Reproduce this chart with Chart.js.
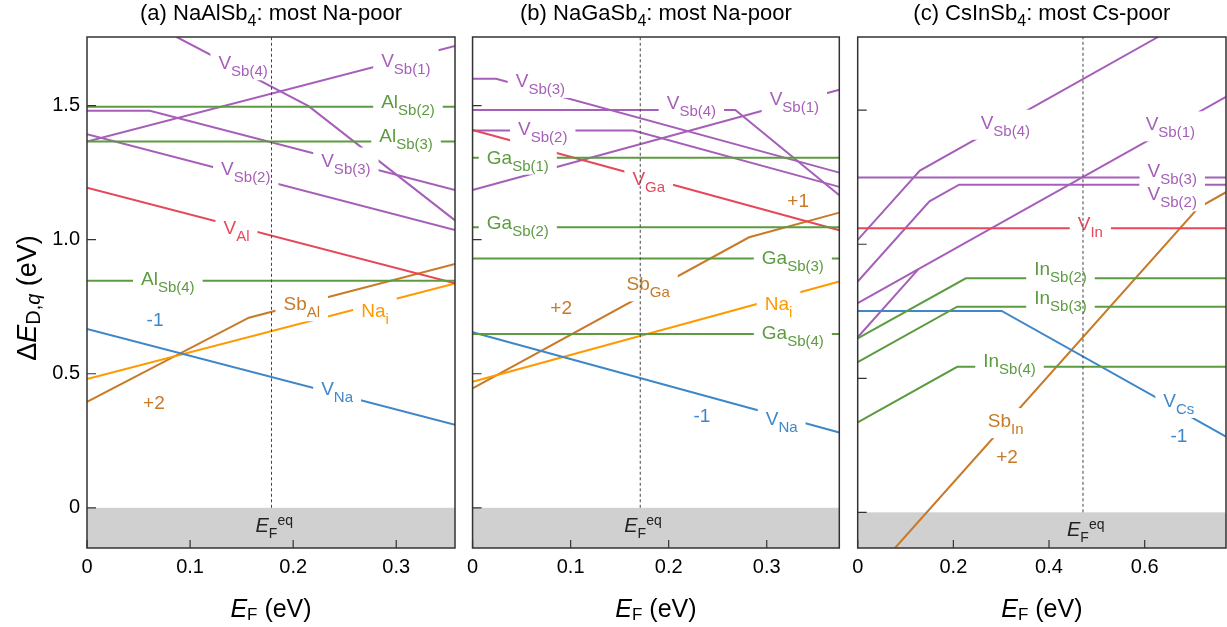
<!DOCTYPE html>
<html>
<head>
<meta charset="utf-8">
<style>
  body { margin: 0; background: #fff; }
  #wrap { position: relative; width: 1227px; height: 627px; overflow: hidden; }
  #wrap canvas { position: absolute; top: 0; }
</style>
</head>
<body>
<div id="wrap"></div>

<script src="https://cdn.jsdelivr.net/npm/chart.js@4.4.0/dist/chart.umd.min.js"></script>
<script>
  // tick values
  const xTicksAB = [0, 0.1, 0.2, 0.3]
  const xTicksC = [0, 0.2, 0.4, 0.6]
  const yTicks = [0, 0.5, 1.0, 1.5]

  // E_F^eq positions (eV)
  const eqA = 0.179
  const eqB = 0.171
  const eqC = 0.471

  // (a) NaAlSb4 : [E_F, dE] break points
  const aVNa = [[0, 0.667], [0.357, 0.310]]
  const aNai = [[0, 0.480], [0.357, 0.837]]
  const aSbAl = [[0, 0.395], [0.157, 0.709], [0.357, 0.909]]
  const aVAl = [[0, 1.194], [0.357, 0.837]]
  const aAlSb4 = [[0, 0.847], [0.357, 0.847]]
  const aAlSb3 = [[0, 1.366], [0.357, 1.366]]
  const aAlSb2 = [[0, 1.496], [0.357, 1.496]]
  const aVSb1 = [[0, 1.366], [0.357, 1.723]]
  const aVSb2 = [[0, 1.393], [0.357, 1.036]]
  const aVSb3 = [[0, 1.481], [0.061, 1.481], [0.357, 1.185]]
  const aVSb4 = [[0.087, 1.756], [0.215, 1.498], [0.357, 1.072]]

  // (b) NaGaSb4
  const bVNa = [[0, 0.655], [0.374, 0.281]]
  const bGaSb4 = [[0, 0.648], [0.374, 0.648]]
  const bNai = [[0, 0.470], [0.374, 0.844]]
  const bSbGa = [[0, 0.445], [0.282, 1.009], [0.374, 1.101]]
  const bGaSb3 = [[0, 0.930], [0.374, 0.930]]
  const bGaSb2 = [[0, 1.046], [0.374, 1.046]]
  const bGaSb1 = [[0, 1.306], [0.374, 1.306]]
  const bVGa = [[0, 1.409], [0.374, 1.035]]
  const bVSb2 = [[0, 1.407], [0.164, 1.407], [0.374, 1.197]]
  const bVSb4 = [[0, 1.484], [0.268, 1.484], [0.374, 1.166]]
  const bVSb3 = [[0, 1.600], [0.024, 1.600], [0.374, 1.250]]
  const bVSb1 = [[0, 1.185], [0.374, 1.559]]

  // (c) CsInSb4
  const cVIn = [[0, 1.060], [0.77, 1.060]]
  const cVSb3 = [[0, 1.249], [0.77, 1.249]]
  const cVSb2 = [[0, 0.861], [0.150, 1.160], [0.212, 1.222], [0.77, 1.222]]
  const cVSb4 = [[0, 1.016], [0.130, 1.275], [0.628, 1.773]]
  const cVSb1 = [[0, 0.780], [0.77, 1.550]]
  const cVSb1b = [[0, 0.653], [0.127, 0.907]]
  const cInSb2 = [[0, 0.649], [0.226, 0.873], [0.77, 0.873]]
  const cInSb3 = [[0, 0.560], [0.208, 0.767], [0.77, 0.767]]
  const cInSb4 = [[0, 0.336], [0.208, 0.543], [0.77, 0.543]]
  const cVCs = [[0, 0.751], [0.301, 0.751], [0.77, 0.282]]
  const cSbIn = [[0.078, -0.133], [0.712, 1.136], [0.77, 1.194]]

  const FONT = '"Liberation Sans", Arial, Helvetica, sans-serif'
  const PURPLE = '#a65fb9'
  const GREEN = '#5c9b40'
  const RED = '#e6485a'
  const ORANGE = '#ff9900'
  const BROWN = '#c77a28'
  const BLUE = '#3e87c8'

  const panels = [
    {
      left: 0, width: 460, axisW: 87, padR: 5,
      xMax: 0.357, yMin: -0.15, yMax: 1.756, xTicks: xTicksAB, showY: true, eq: eqA,
      title: ['(a) NaAlSb', '4', ': most Na-poor'],
      series: [
        [aAlSb4, GREEN], [aAlSb3, GREEN], [aAlSb2, GREEN],
        [aVNa, BLUE], [aVAl, RED], [aVSb1, PURPLE], [aVSb2, PURPLE], [aVSb3, PURPLE], [aVSb4, PURPLE],
        [aNai, ORANGE], [aSbAl, BROWN]
      ],
      labels: [
        [0.1275, 1.662, 'V', 'Sb(4)', PURPLE, true],
        [0.2854, 1.672, 'V', 'Sb(1)', PURPLE, true],
        [0.2854, 1.517, 'Al', 'Sb(2)', GREEN, true],
        [0.2835, 1.389, 'Al', 'Sb(3)', GREEN, true],
        [0.2272, 1.299, 'V', 'Sb(3)', PURPLE, true],
        [0.1301, 1.268, 'V', 'Sb(2)', PURPLE, true],
        [0.1324, 1.049, 'V', 'Al', RED, true],
        [0.0524, 0.856, 'Al', 'Sb(4)', GREEN, true],
        [0.1906, 0.763, 'Sb', 'Al', BROWN, true],
        [0.266, 0.738, 'Na', 'i', ORANGE, true],
        [0.2272, 0.4455, 'V', 'Na', BLUE, true],
        [0.0578, 0.704, '-1', '', BLUE, false],
        [0.0544, 0.396, '+2', '', BROWN, false]
      ]
    },
    {
      left: 460, width: 385, axisW: 11.7, padR: 5.7,
      xMax: 0.374, yMin: -0.15, yMax: 1.756, xTicks: xTicksAB, showY: false, eq: eqB,
      title: ['(b) NaGaSb', '4', ': most Na-poor'],
      series: [
        [bGaSb4, GREEN], [bGaSb3, GREEN], [bGaSb2, GREEN], [bGaSb1, GREEN],
        [bVNa, BLUE], [bVGa, RED], [bVSb1, PURPLE], [bVSb2, PURPLE], [bVSb3, PURPLE], [bVSb4, PURPLE],
        [bNai, ORANGE], [bSbGa, BROWN]
      ],
      labels: [
        [0.044, 1.596, 'V', 'Sb(3)', PURPLE, true],
        [0.198, 1.515, 'V', 'Sb(4)', PURPLE, true],
        [0.303, 1.527, 'V', 'Sb(1)', PURPLE, true],
        [0.0464, 1.418, 'V', 'Sb(2)', PURPLE, true],
        [0.0145, 1.310, 'Ga', 'Sb(1)', GREEN, true],
        [0.163, 1.229, 'V', 'Ga', RED, true],
        [0.0145, 1.067, 'Ga', 'Sb(2)', GREEN, true],
        [0.295, 0.937, 'Ga', 'Sb(3)', GREEN, true],
        [0.157, 0.837, 'Sb', 'Ga', BROWN, true],
        [0.298, 0.763, 'Na', 'i', ORANGE, true],
        [0.295, 0.657, 'Ga', 'Sb(4)', GREEN, true],
        [0.299, 0.334, 'V', 'Na', BLUE, true],
        [0.321, 1.148, '+1', '', BROWN, false],
        [0.0793, 0.750, '+2', '', BROWN, false],
        [0.2253, 0.346, '-1', '', BLUE, false]
      ]
    },
    {
      left: 845, width: 382, axisW: 12.7, padR: 1,
      xMax: 0.77, yMin: -0.133, yMax: 1.773, xTicks: xTicksC, showY: false, eq: eqC,
      title: ['(c) CsInSb', '4', ': most Cs-poor'],
      series: [
        [cInSb2, GREEN], [cInSb3, GREEN], [cInSb4, GREEN],
        [cVCs, BLUE], [cVIn, RED],
        [cVSb3, PURPLE], [cVSb2, PURPLE], [cVSb4, PURPLE], [cVSb1, PURPLE], [cVSb1b, PURPLE],
        [cSbIn, BROWN]
      ],
      labels: [
        [0.257, 1.457, 'V', 'Sb(4)', PURPLE, true],
        [0.602, 1.451, 'V', 'Sb(1)', PURPLE, true],
        [0.606, 1.277, 'V', 'Sb(3)', PURPLE, true],
        [0.606, 1.190, 'V', 'Sb(2)', PURPLE, true],
        [0.460, 1.078, 'V', 'In', RED, true],
        [0.369, 0.910, 'In', 'Sb(2)', GREEN, true],
        [0.369, 0.805, 'In', 'Sb(3)', GREEN, true],
        [0.2625, 0.568, 'In', 'Sb(4)', GREEN, true],
        [0.639, 0.419, 'V', 'Cs', BLUE, true],
        [0.272, 0.344, 'Sb', 'In', BROWN, true],
        [0.654, 0.288, '-1', '', BLUE, false],
        [0.2897, 0.210, '+2', '', BROWN, false]
      ]
    }
  ]

  // draws a list of text pieces one after another; returns total width
  function rich(ctx, parts, x, y, draw) {
    let w = 0
    for (const p of parts) {
      ctx.font = (p.it ? 'italic ' : '') + p.size + 'px ' + FONT
      if (draw) ctx.fillText(p.t, x + w, y + (p.dy || 0))
      w += ctx.measureText(p.t).width
    }
    return w
  }

  function labelParts(lab) {
    const parts = [{ t: lab[2], size: 19 }]
    if (lab[3]) parts.push({ t: lab[3], size: 15, dy: 7 })
    return parts
  }

  function makePlugin(cfg) {
    return {
      id: 'panelDecor',
      beforeDatasetsDraw(chart) {
        const ctx = chart.ctx, a = chart.chartArea
        const y0 = chart.scales.y.getPixelForValue(0)
        ctx.save()
        ctx.fillStyle = '#d0d0d0'
        ctx.fillRect(a.left, y0, a.right - a.left, a.bottom - y0)
        ctx.restore()
      },
      afterDatasetsDraw(chart) {
        const ctx = chart.ctx, a = chart.chartArea
        const xs = chart.scales.x, ys = chart.scales.y
        const y0 = ys.getPixelForValue(0)
        ctx.save()
        ctx.textAlign = 'left'
        ctx.textBaseline = 'alphabetic'

        // white gaps behind curve labels first, then the labels
        ctx.fillStyle = '#fff'
        for (const lab of cfg.labels) {
          if (!lab[5]) continue
          const px = xs.getPixelForValue(lab[0]), cy = ys.getPixelForValue(lab[1])
          const w = rich(ctx, labelParts(lab), 0, 0, false)
          ctx.fillRect(px - 8, cy - 12, w + 16, 30)
        }
        for (const lab of cfg.labels) {
          const px = xs.getPixelForValue(lab[0]), cy = ys.getPixelForValue(lab[1])
          ctx.fillStyle = lab[4]
          rich(ctx, labelParts(lab), px, cy + 7, true)
        }

        // equilibrium Fermi level
        const ex = xs.getPixelForValue(cfg.eq)
        ctx.strokeStyle = '#444'
        ctx.lineWidth = 1
        ctx.setLineDash([3, 2.5])
        ctx.beginPath()
        ctx.moveTo(ex, y0)
        ctx.lineTo(ex, a.top)
        ctx.stroke()
        ctx.setLineDash([])
        ctx.fillStyle = '#222'
        rich(ctx, [
          { t: 'E', size: 20, it: true },
          { t: 'F', size: 14, dy: 6 },
          { t: 'eq', size: 14, dy: -7 }
        ], ex - 16, y0 + 24, true)

        // frame and inward ticks
        ctx.strokeStyle = '#333'
        ctx.lineWidth = 1.5
        ctx.strokeRect(a.left, a.top, a.right - a.left, a.bottom - a.top)
        ctx.lineWidth = 1.2
        ctx.beginPath()
        for (const v of yTicks) {
          const py = ys.getPixelForValue(v)
          ctx.moveTo(a.left, py)
          ctx.lineTo(a.left + 9, py)
        }
        for (const v of cfg.xTicks) {
          const px = xs.getPixelForValue(v)
          ctx.moveTo(px, a.bottom)
          ctx.lineTo(px, a.bottom - 8)
        }
        ctx.stroke()
        ctx.restore()
      },
      afterDraw(chart) {
        const ctx = chart.ctx, a = chart.chartArea
        const cx = (a.left + a.right) / 2
        ctx.save()
        ctx.fillStyle = '#000'
        ctx.textAlign = 'left'
        ctx.textBaseline = 'alphabetic'

        // panel title
        const tParts = [
          { t: cfg.title[0], size: 22 },
          { t: cfg.title[1], size: 16, dy: 6 },
          { t: cfg.title[2], size: 22 }
        ]
        let w = rich(ctx, tParts, 0, 0, false)
        rich(ctx, tParts, cx - w / 2, 20, true)

        // x axis title
        const xParts = [
          { t: 'E', size: 25, it: true },
          { t: 'F', size: 17, dy: 3 },
          { t: ' (eV)', size: 25 }
        ]
        w = rich(ctx, xParts, 0, 0, false)
        rich(ctx, xParts, cx - w / 2, 617, true)

        // y axis title (only first panel)
        if (cfg.showY) {
          const yParts = [
            { t: '\u0394', size: 27 },
            { t: 'E', size: 27, it: true },
            { t: 'D,', size: 20, dy: 4 },
            { t: 'q', size: 20, dy: 4, it: true },
            { t: ' (eV)', size: 27 }
          ]
          w = rich(ctx, yParts, 0, 0, false)
          ctx.translate(36, 298)
          ctx.rotate(-Math.PI / 2)
          rich(ctx, yParts, -w / 2, 0, true)
        }
        ctx.restore()
      }
    }
  }

  function createPanel(cfg) {
    const canvas = document.createElement('canvas')
    canvas.width = cfg.width
    canvas.height = 627
    canvas.style.left = cfg.left + 'px'
    document.getElementById('wrap').appendChild(canvas)

    const datasets = cfg.series.map(s => ({
      data: s[0].map(p => ({ x: p[0], y: p[1] })),
      borderColor: s[1],
      borderWidth: 2,
      pointRadius: 0,
      tension: 0,
      fill: false
    }))

    return new Chart(canvas.getContext('2d'), {
      type: 'line',
      data: { datasets: datasets },
      options: {
        responsive: false,
        animation: false,
        events: [],
        layout: { padding: { left: 0, right: cfg.padR, top: 37, bottom: 0 } },
        plugins: { legend: { display: false }, tooltip: { enabled: false } },
        scales: {
          x: {
            type: 'linear',
            min: 0,
            max: cfg.xMax,
            grid: { display: false, drawTicks: false },
            border: { display: false },
            afterBuildTicks: s => { s.ticks = cfg.xTicks.map(v => ({ value: v })) },
            afterFit: s => { s.height = 79 },
            ticks: {
              font: { family: FONT, size: 20 },
              color: '#000',
              padding: 7,
              maxRotation: 0,
              autoSkip: false,
              callback: v => v === 0 ? '0' : v.toFixed(1)
            }
          },
          y: {
            type: 'linear',
            min: cfg.yMin,
            max: cfg.yMax,
            grid: { display: false, drawTicks: false },
            border: { display: false },
            afterBuildTicks: s => { s.ticks = yTicks.map(v => ({ value: v })) },
            afterFit: s => { s.width = cfg.axisW },
            ticks: {
              display: cfg.showY,
              font: { family: FONT, size: 20 },
              color: '#000',
              padding: 7,
              autoSkip: false,
              callback: v => v === 0 ? '0' : v.toFixed(1)
            }
          }
        }
      },
      plugins: [makePlugin(cfg)]
    })
  }

  panels.forEach(createPanel)
</script>
</body>
</html>
